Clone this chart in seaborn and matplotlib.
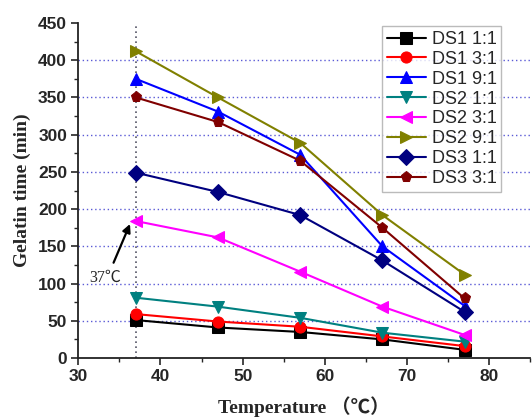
import matplotlib
matplotlib.use("Agg")
import matplotlib.pyplot as plt
import seaborn as sns
import pandas as pd

temps = [37, 47, 57, 67, 77]
ds1_11 = [51, 41, 35, 25, 11]
ds1_31 = [59, 49, 42, 29, 16]
ds1_91 = [375, 331, 273, 150, 70]
ds2_11 = [81, 69, 54, 34, 22]
ds2_31 = [184, 162, 116, 69, 31]
ds2_91 = [412, 350, 289, 192, 112]
ds3_11 = [249, 223, 192, 131, 62]
ds3_31 = [350, 317, 265, 175, 80]

labels = ["DS1 1:1", "DS1 3:1", "DS1 9:1", "DS2 1:1", "DS2 3:1", "DS2 9:1", "DS3 1:1", "DS3 3:1"]
series = [ds1_11, ds1_31, ds1_91, ds2_11, ds2_31, ds2_91, ds3_11, ds3_31]
colors = ["#000000", "#ff0000", "#0000ff", "#008080", "#ff00ff", "#808000", "#000080", "#800000"]
markers = ["s", "o", "^", "v", "<", ">", "D", "p"]
yticks = [0, 50, 100, 150, 200, 250, 300, 350, 400, 450]
xticks = [30, 40, 50, 60, 70, 80]

sns.set_style("ticks")
plt.rcParams["font.family"] = ["Liberation Sans", "DejaVu Sans"]

rows = []
for lab, vals in zip(labels, series):
    for t, v in zip(temps, vals):
        rows.append({"Temperature": t, "Time": v, "Series": lab})
df = pd.DataFrame(rows)

fig = plt.figure(figsize=(5.32, 4.18), dpi=100)
ax = fig.add_axes([0.147, 0.1435, 0.85, 0.8015])

# grid lines
for y in yticks[1:-1]:
    ax.axhline(y, color="#5a5ad6", linestyle=(0, (1, 2)), linewidth=1.0, zorder=0)
ax.axvline(37, ymin=0, ymax=1, color="#555566", linestyle=(0, (1, 2)), linewidth=1.2, zorder=0)

sns.lineplot(data=df, x="Temperature", y="Time", hue="Series", style="Series",
             hue_order=labels, style_order=labels,
             palette=dict(zip(labels, colors)), markers=dict(zip(labels, markers)),
             dashes=False, markersize=8, linewidth=1.5,
             ax=ax, legend=True, zorder=3)
for line in ax.get_lines():
    line.set_markeredgecolor(line.get_color())

ax.set_xlim(30, 85)
ax.set_ylim(0, 450)
ax.set_xticks(xticks)
ax.set_yticks(yticks)
ax.set_xticks([35, 45, 55, 65, 75, 85], minor=True)
ax.set_yticks([25, 75, 125, 175, 225, 275, 325, 375, 425], minor=True)
ax.tick_params(axis="both", which="major", length=5, width=1.2, direction="out",
               labelsize=12.5, pad=3)
ax.tick_params(axis="both", which="minor", length=3, width=1.0, direction="out")
for lab in ax.get_xticklabels() + ax.get_yticklabels():
    lab.set_fontweight("bold")
for s in ["top", "right"]:
    ax.spines[s].set_visible(False)
for s in ["left", "bottom"]:
    ax.spines[s].set_linewidth(1.3)
    ax.spines[s].set_color("#222222")

ax.set_xlabel("Temperature （℃）", fontsize=14, fontweight="bold",
              family=["Liberation Serif", "Noto Sans CJK SC"], labelpad=9)
ax.set_ylabel("Gelatin time (min)", fontsize=14, fontweight="bold",
              family=["Liberation Serif", "Noto Sans CJK SC"], labelpad=5)

ax.text(33.3, 108, "37℃", fontsize=11.5, family=["Liberation Serif", "Noto Sans CJK SC"],
        ha="center", va="center")
ax.annotate("", xy=(36.3, 180), xytext=(34.3, 128),
            arrowprops=dict(arrowstyle="-|>", color="black", lw=1.6,
                            shrinkA=0, shrinkB=0, mutation_scale=12))

handles, labs = ax.get_legend_handles_labels()
for h in handles:
    h.set_markeredgecolor(h.get_color())
leg = ax.legend(handles, labs, loc="upper left", bbox_to_anchor=(0.672, 0.99),
                fontsize=13, labelspacing=0.16, handlelength=2.2, handletextpad=0.3,
                borderpad=0.25, frameon=True, fancybox=False, edgecolor="#aaaaaa",
                borderaxespad=0)
leg.get_frame().set_linewidth(1.0)

fig.savefig("out.png", dpi=100, facecolor="white")
